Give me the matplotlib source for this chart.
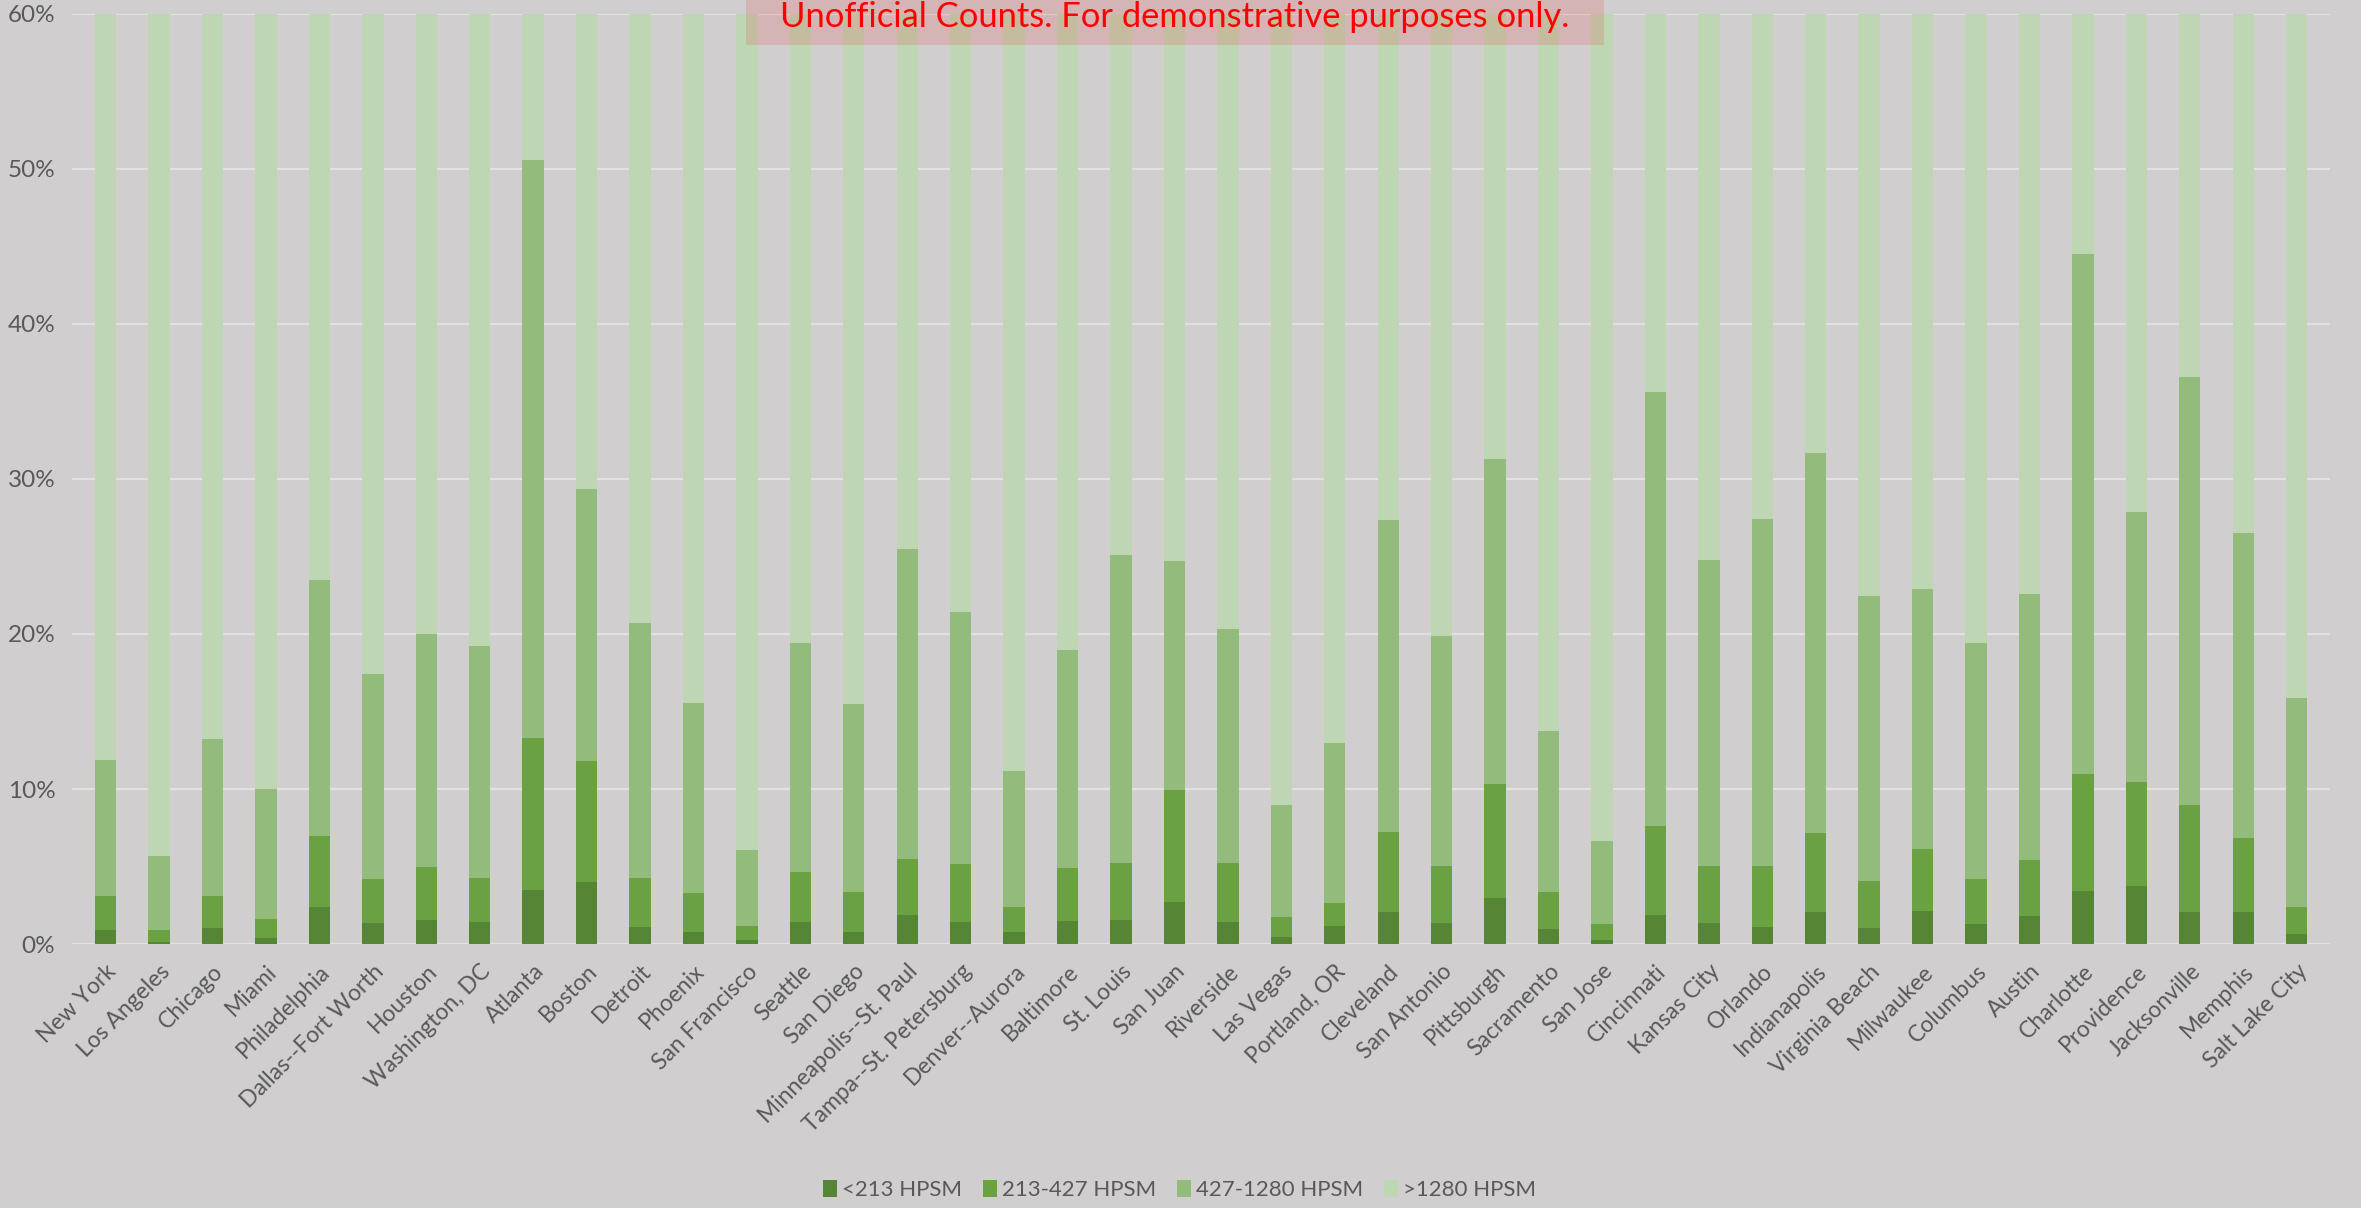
import matplotlib.pyplot as plt
from matplotlib.patches import Rectangle
import numpy as np

plt.rcParams['font.family'] = ['Lato', 'DejaVu Sans']

cities = ['New York', 'Los Angeles', 'Chicago', 'Miami', 'Philadelphia', 'Dallas--Fort Worth',
          'Houston', 'Washington, DC', 'Atlanta', 'Boston', 'Detroit', 'Phoenix', 'San Francisco',
          'Seattle', 'San Diego', 'Minneapolis--St. Paul', 'Tampa--St. Petersburg', 'Denver--Aurora',
          'Baltimore', 'St. Louis', 'San Juan', 'Riverside', 'Las Vegas', 'Portland, OR', 'Cleveland',
          'San Antonio', 'Pittsburgh', 'Sacramento', 'San Jose', 'Cincinnati', 'Kansas City',
          'Orlando', 'Indianapolis', 'Virginia Beach', 'Milwaukee', 'Columbus', 'Austin',
          'Charlotte', 'Providence', 'Jacksonville', 'Memphis', 'Salt Lake City']

# share of households per density band, in percent
lt213 = [0.92, 0.15, 1.01, 0.39, 2.41, 1.33, 1.53, 1.40, 3.48, 3.98, 1.08, 0.75, 0.28, 1.40,
         0.75, 1.87, 1.42, 0.75, 1.46, 1.53, 2.69, 1.42, 0.43, 1.14, 2.06, 1.33, 2.95, 0.95,
         0.28, 1.89, 1.33, 1.08, 2.04, 1.03, 2.13, 1.27, 1.78, 3.40, 3.72, 2.09, 2.04, 0.62]
s213_427 = [2.20, 0.75, 2.07, 1.24, 4.58, 2.89, 3.46, 2.88, 9.83, 7.85, 3.20, 2.54, 0.86, 3.27,
            2.58, 3.63, 3.76, 1.62, 3.44, 3.72, 7.27, 3.83, 1.29, 1.53, 5.14, 3.68, 7.35, 2.38,
            0.99, 5.74, 3.72, 3.97, 5.14, 3.06, 4.02, 2.90, 3.66, 7.59, 6.75, 6.90, 4.82, 1.79]
s427_1280 = [8.73, 4.80, 10.17, 8.37, 16.51, 13.22, 15.03, 14.95, 37.29, 17.52, 16.45, 12.24, 4.95, 14.77,
             12.17, 19.98, 16.26, 8.77, 14.09, 19.87, 14.77, 15.09, 7.27, 10.32, 20.18, 14.84, 21.00, 10.43,
             5.35, 27.97, 19.72, 22.37, 24.52, 18.38, 16.77, 15.23, 17.16, 33.51, 17.38, 27.61, 19.63, 13.44]
gt1280 = [88.15, 94.30, 86.75, 90.00, 76.50, 82.56, 79.98, 80.77, 49.40, 70.65, 79.27, 84.47, 93.91, 80.56,
          84.50, 74.52, 78.56, 88.86, 81.01, 74.88, 75.27, 79.66, 91.01, 87.01, 72.62, 80.15, 68.70, 86.24,
          93.38, 64.40, 75.23, 72.58, 68.30, 77.53, 77.08, 80.60, 77.40, 55.50, 72.15, 63.40, 73.51, 84.15]

series = [lt213, s213_427, s427_1280, gt1280]
labels = ['<213 HPSM', '213-427 HPSM', '427-1280 HPSM', '>1280 HPSM']
colors = ['#568536', '#6aa243', '#93bb7b', '#bed6b4']
bg = '#d0cecf'
txt = '#595959'

fig = plt.figure(figsize=(23.61, 12.08), dpi=100, facecolor=bg)
ax = fig.add_axes([0.0305, 0.2185, 0.9565, 0.77])
ax.set_facecolor(bg)

x = np.arange(len(cities))
bottom = np.zeros(len(cities))
for vals, lab, col in zip(series, labels, colors):
    v = np.array(vals) / 100
    ax.bar(x, v, 0.4, bottom=bottom, color=col, label=lab, zorder=3)
    bottom += v

ax.set_ylim(0, 0.6)
ax.set_xlim(-0.63, len(cities) - 0.37)
ax.set_yticks(np.arange(0, 0.61, 0.1))
ax.set_yticklabels([f'{int(round(t * 100))}%' for t in np.arange(0, 0.61, 0.1)])
ax.yaxis.grid(True, color='#e2e1e1', linewidth=1.6, zorder=0)
ax.tick_params(axis='y', length=0, labelsize=17.5, labelcolor=txt, pad=12)
ax.set_xticks(x)
ax.set_xticklabels(cities, rotation=45, ha='right', rotation_mode='anchor')
ax.tick_params(axis='x', length=0, labelsize=16.5, labelcolor=txt, pad=12)
for s in ax.spines.values():
    s.set_visible(False)

# watermark box at the top
fig.patches.append(Rectangle((746 / 2361, 1 - 45 / 1208), 858 / 2361, 45 / 1208,
                             transform=fig.transFigure, facecolor='red', alpha=0.12,
                             edgecolor='none', zorder=10))
fig.text(0.4977, 1 - 17 / 1208, 'Unofficial Counts. For demonstrative purposes only.',
         color='red', fontsize=24.8, ha='center', va='center', zorder=11)

fig.legend(loc='center', bbox_to_anchor=(0.4997, 1 - 1190 / 1208), ncol=4, frameon=False,
           fontsize=16, labelcolor=txt, handlelength=0.6, handleheight=0.8,
           handletextpad=0.25, columnspacing=0.95)

fig.savefig('out.png', dpi=100, facecolor=bg)
